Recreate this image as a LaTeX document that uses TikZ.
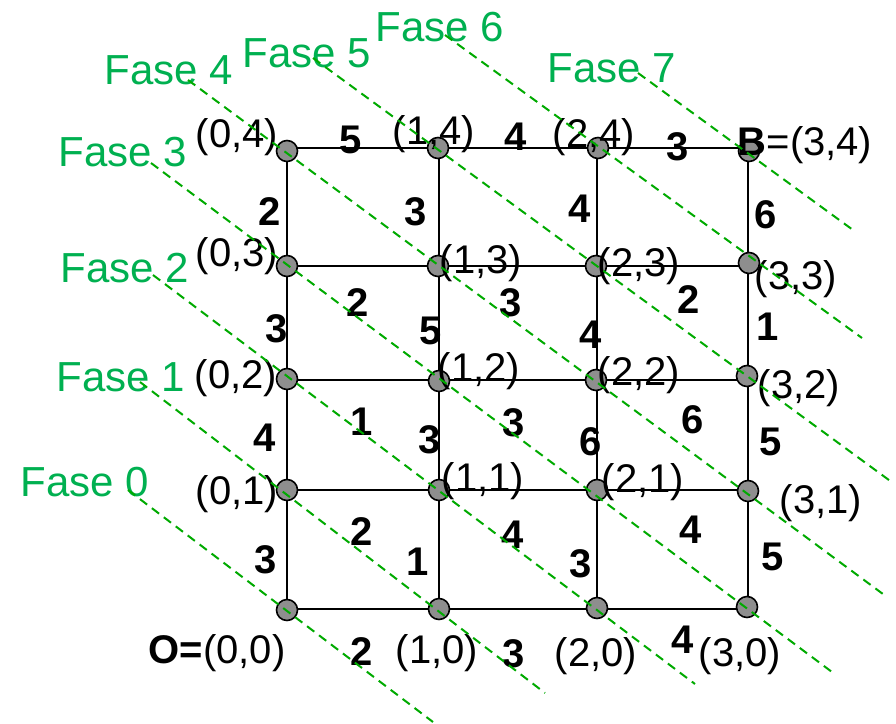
\documentclass[tikz,border=0pt]{standalone}
\usepackage{fontspec}
\setmainfont{Liberation Sans}
\definecolor{fasetext}{HTML}{00B050}
\definecolor{faseline}{HTML}{00AA00}
\definecolor{nodegray}{HTML}{8E8E8E}
\begin{document}
\begin{tikzpicture}[x=1pt,y=-1pt,
  pt/.style={circle,draw=black,line width=1.6pt,fill=nodegray,minimum size=21pt,inner sep=0pt},
  edge/.style={draw=black,line width=2.6pt},
  fase/.style={draw=faseline,line width=2pt,dash pattern=on 9pt off 6pt},
  lab/.style={inner sep=0pt,font=\fontsize{40}{46}\selectfont},
  wt/.style={inner sep=0pt,font=\fontsize{40}{46}\selectfont\bfseries},
  fl/.style={inner sep=0pt,text=fasetext,font=\fontsize{42}{48}\selectfont}]
\useasboundingbox (0,0) rectangle (896,723);
% grid edges (drawn first)
\coordinate (g00) at (287,609); \coordinate (g10) at (439,609); \coordinate (g20) at (597,609); \coordinate (g30) at (748,609);
\coordinate (g01) at (287,490); \coordinate (g11) at (439,490); \coordinate (g21) at (597,490); \coordinate (g31) at (748,490);
\coordinate (g02) at (287,380); \coordinate (g12) at (439,380); \coordinate (g22) at (597,380); \coordinate (g32) at (748,380);
\coordinate (g03) at (287,266); \coordinate (g13) at (439,266); \coordinate (g23) at (597,266); \coordinate (g33) at (748,266);
\coordinate (g04) at (287,148); \coordinate (g14) at (439,148); \coordinate (g24) at (597,148); \coordinate (g34) at (748,148);
\foreach \r in {0,...,4}{
  \draw[edge] (g0\r) -- (g1\r) -- (g2\r) -- (g3\r);}
\foreach \c in {0,...,3}{
  \draw[edge] (g\c0) -- (g\c1) -- (g\c2) -- (g\c3) -- (g\c4);}
% grid nodes
\node[pt] (n00) at (287,610) {};
\node[pt] (n10) at (439,609) {};
\node[pt] (n20) at (597,608) {};
\node[pt] (n30) at (747,607) {};
\node[pt] (n01) at (287,490) {};
\node[pt] (n11) at (439,490) {};
\node[pt] (n21) at (597,490) {};
\node[pt] (n31) at (748,491) {};
\node[pt] (n02) at (287,379) {};
\node[pt] (n12) at (439,381) {};
\node[pt] (n22) at (596,380) {};
\node[pt] (n32) at (747,376) {};
\node[pt] (n03) at (287,266) {};
\node[pt] (n13) at (438,266) {};
\node[pt] (n23) at (596,266) {};
\node[pt] (n33) at (749,263) {};
\node[pt] (n04) at (287,151) {};
\node[pt] (n14) at (438,148) {};
\node[pt] (n24) at (598,148) {};
\node[pt] (n34) at (749,151) {};
% coordinate labels
\node[lab] (l04) at (237,137) {(0,4)};
\node[lab] (l14) at (434,134) {(1,4)};
\node[lab] (l24) at (594,137) {(2,4)};
\node[lab] (l34) at (805,145) {\textbf{B}=(3,4)};
\node[lab] (l03) at (237,256) {(0,3)};
\node[lab] (l13) at (481,263) {(1,3)};
\node[lab] (l23) at (639,266) {(2,3)};
\node[lab] (l33) at (796,279) {(3,3)};
\node[lab] (l02) at (236,378) {(0,2)};
\node[lab] (l12) at (479,371) {(1,2)};
\node[lab] (l22) at (639,375) {(2,2)};
\node[lab] (l32) at (799,388) {(3,2)};
\node[lab] (l01) at (237,494) {(0,1)};
\node[lab] (l11) at (483,481) {(1,1)};
\node[lab] (l21) at (643,482) {(2,1)};
\node[lab] (l31) at (821,503) {(3,1)};
\node[lab] (l00) at (217,653) {\textbf{O=}(0,0)};
\node[lab] (l10) at (437,653) {(1,0)};
\node[lab] (l20) at (596,656) {(2,0)};
\node[lab] (l30) at (740,656) {(3,0)};
% weights
\node[wt] (w1) at (351,140) {5};
\node[wt] (w2) at (516,137) {4};
\node[wt] (w3) at (678,147) {3};
\node[wt] (w4) at (270,212) {2};
\node[wt] (w5) at (416,212) {3};
\node[wt] (w6) at (580,209) {4};
\node[wt] (w7) at (766,215) {6};
\node[wt] (w8) at (358,303) {2};
\node[wt] (w9) at (511,303) {3};
\node[wt] (w10) at (689,300) {2};
\node[wt] (w11) at (277,329) {3};
\node[wt] (w12) at (431,331) {5};
\node[wt] (w13) at (591,335) {4};
\node[wt] (w14) at (768,327) {1};
\node[wt] (w15) at (362,422) {1};
\node[wt] (w16) at (514,423) {3};
\node[wt] (w17) at (693,420) {6};
\node[wt] (w18) at (265,438) {4};
\node[wt] (w19) at (430,440) {3};
\node[wt] (w20) at (591,442) {6};
\node[wt] (w21) at (771,442) {5};
\node[wt] (w22) at (362,532) {2};
\node[wt] (w23) at (513,535) {4};
\node[wt] (w24) at (691,530) {4};
\node[wt] (w25) at (266,560) {3};
\node[wt] (w26) at (418,562) {1};
\node[wt] (w27) at (581,564) {3};
\node[wt] (w28) at (773,557) {5};
\node[wt] (w29) at (362,652) {2};
\node[wt] (w30) at (514,654) {3};
\node[wt] (w31) at (683,640) {4};
% phase labels
\node[fl] (F0) at (85,482) {Fase 0};
\node[fl] (F1) at (121,377) {Fase 1};
\node[fl] (F2) at (125,268) {Fase 2};
\node[fl] (F3) at (123,152) {Fase 3};
\node[fl] (F4) at (169,70) {Fase 4};
\node[fl] (F5) at (307,53) {Fase 5};
\node[fl] (F6) at (440,27) {Fase 6};
\node[fl] (F7) at (612,68) {Fase 7};
% phase line ends
\coordinate (f0a) at (128,490); \coordinate (f0b) at (433,722);
\coordinate (f1a) at (140,382); \coordinate (f1b) at (545,693);
\coordinate (f2a) at (153,275); \coordinate (f2b) at (695,684);
\coordinate (f3a) at (151,163); \coordinate (f3b) at (832,672);
\coordinate (f4a) at (188,80);  \coordinate (f4b) at (887,597);
\coordinate (f5a) at (313,58);  \coordinate (f5b) at (893,483);
\coordinate (f6a) at (445,35);  \coordinate (f6b) at (862,338);
\coordinate (f7a) at (638,73);  \coordinate (f7b) at (853,230);
\foreach \k in {0,...,7}{\draw[fase] (f\k a) -- (f\k b);}
\end{tikzpicture}
\end{document}
